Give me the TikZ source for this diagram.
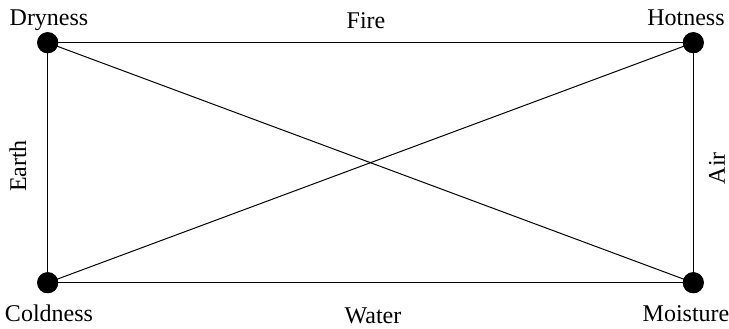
\documentclass[tikz,border=0pt]{standalone}
\usepackage{fontspec}
\setmainfont{Liberation Serif}
\begin{document}
\begin{tikzpicture}[x=0.5pt,y=-0.5pt,
  dotnode/.style={circle,fill=black,inner sep=0pt,minimum size=10.5pt},
  lbl/.style={font=\fontsize{12}{14}\selectfont,inner sep=0pt},
  edge/.style={line width=0.5pt}]
\useasboundingbox (0,0) rectangle (729,328);
\node[dotnode] (dry) at (47.7,42.7) {};
\node[dotnode] (hot) at (693.3,42.7) {};
\node[dotnode] (cold) at (47.7,282.7) {};
\node[dotnode] (moist) at (693.3,282.7) {};
\draw[edge] (dry.center) -- (hot.center);
\draw[edge] (hot.center) -- (moist.center);
\draw[edge] (moist.center) -- (cold.center);
\draw[edge] (cold.center) -- (dry.center);
\draw[edge] (dry.center) -- (moist.center);
\draw[edge] (cold.center) -- (hot.center);
\node[dotnode] at (dry) {};
\node[dotnode] at (hot) {};
\node[dotnode] at (cold) {};
\node[dotnode] at (moist) {};
\node[lbl,anchor=base] (tdry) at (49,25) {Dryness};
\node[lbl,anchor=base] (thot) at (686,25) {Hotness};
\node[lbl,anchor=base] (tfire) at (366,28) {Fire};
\node[lbl,anchor=base] (tcold) at (49,321) {Coldness};
\node[lbl,anchor=base] (twater) at (373,323) {Water};
\node[lbl,anchor=base] (tmoist) at (686,321) {Moisture};
\node[lbl,rotate=90] (tearth) at (18,166) {Earth};
\node[lbl,rotate=90] (tair) at (717,168) {Air};
\end{tikzpicture}
\end{document}
